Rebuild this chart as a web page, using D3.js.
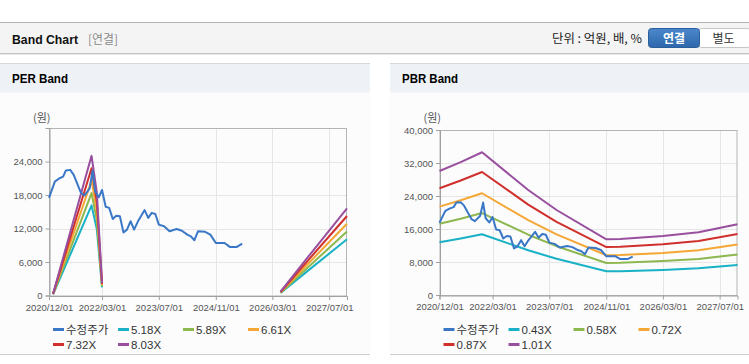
<!DOCTYPE html>
<html><head><meta charset="utf-8">
<script src="https://cdn.jsdelivr.net/npm/d3@7"></script>
<style>
html,body{margin:0;padding:0;background:#fff;}
svg{display:block;font-family:"Liberation Sans","Noto Sans CJK KR",sans-serif;}
</style></head>
<body><svg id="c" width="749" height="364"></svg>
<script>
// ---- data ----
const xTickLabels = ["2020/12/01","2022/03/01","2023/07/01","2024/11/01","2026/03/01","2027/07/01"];
const perYTicks = [0, 6000, 12000, 18000, 24000];
const pbrYTicks = [0, 8000, 16000, 24000, 32000, 40000];

const priceDates = ["2020-12-01","2021-01-20","2021-03-01","2021-04-01","2021-04-25","2021-06-01","2021-07-01","2021-09-01","2021-10-01","2021-11-15","2021-12-10","2022-01-01","2022-02-01","2022-03-01","2022-04-01","2022-05-01","2022-06-01","2022-07-01","2022-08-01","2022-09-01","2022-10-01","2022-11-01","2022-12-01","2023-01-01","2023-03-01","2023-04-01","2023-05-01","2023-06-01","2023-07-01","2023-08-15","2023-10-01","2023-12-01","2024-01-15","2024-03-01","2024-04-01","2024-05-01","2024-06-01","2024-08-01","2024-09-15","2024-11-01","2025-01-15","2025-03-01","2025-05-01","2025-06-15"];
const priceValues = [17500,20400,21000,21300,22400,22500,21600,18400,17900,19200,22400,18600,17600,18900,15900,15700,13700,14300,14200,11300,11800,13300,11800,13200,15300,13900,14800,14600,12700,12400,11500,11900,11600,10900,10600,9900,11500,11400,10900,9400,9400,8700,8700,9300];

// PER band: EPS base (null = gap)
const epsDates = ["2021-01-05","2021-12-01","2022-01-15","2022-02-15","2022-03-01","2022-03-02","2026-05-10","2027-01-01","2027-12-01"];
const epsValues = [40,3115,2300,900,280,null,85,860,1945];
const perMultiples = [5.18, 5.89, 6.61, 7.32, 8.03];
const perLabels = ["5.18X","5.89X","6.61X","7.32X","8.03X"];

// PBR band: BPS base
const bpsDates = ["2020-12-01","2021-06-01","2021-12-01","2023-01-01","2023-09-01","2024-11-01","2025-03-01","2026-03-01","2027-01-01","2027-12-01"];
const bpsValues = [29760,31900,34260,25200,20400,13370,13450,14160,15050,16970];
const pbrMultiples = [0.43, 0.58, 0.72, 0.87, 1.01];
const pbrLabels = ["0.43X","0.58X","0.72X","0.87X","1.01X"];

const priceLabel = "수정주가";
const bandColors = ["#19b1c6","#8db74f","#f4a734","#d0302c","#984f9e"];
const priceColor = "#3a78c7";

// ---- page chrome ----
const svg = d3.select("#c");
const parse = d3.timeParse("%Y-%m-%d");
const tickDates = xTickLabels.map(s => d3.timeParse("%Y/%m/%d")(s));
const xDomain = [parse("2020-12-01"), parse("2027-12-01")];

svg.append("rect").attr("x",0).attr("y",22).attr("width",749).attr("height",31).attr("fill","#f4f4f4");
svg.append("line").attr("x1",0).attr("x2",749).attr("y1",22.5).attr("y2",22.5).attr("stroke","#b5b5b5");
svg.append("line").attr("x1",0).attr("x2",749).attr("y1",53.5).attr("y2",53.5).attr("stroke","#c4c4c4");
svg.append("line").attr("x1",0).attr("x2",749).attr("y1",54.5).attr("y2",54.5).attr("stroke","#e6e6e6");
svg.append("text").attr("x",12).attr("y",44).attr("font-size",13).attr("font-weight","bold").attr("fill","#111")
  .attr("textLength",66).attr("lengthAdjust","spacingAndGlyphs").text("Band Chart");
svg.append("text").attr("x",88).attr("y",43.5).attr("font-size",12).attr("fill","#8a8a8a").attr("font-family","Noto Sans CJK KR")
  .attr("textLength",30).attr("lengthAdjust","spacingAndGlyphs").text("[연결]");
svg.append("text").attr("x",642).attr("y",43).attr("text-anchor","end").attr("font-size",12).attr("fill","#222").attr("font-family","Noto Sans CJK KR")
  .attr("textLength",90).attr("lengthAdjust","spacingAndGlyphs").text("단위 : 억원, 배, %");
const grad = svg.append("defs").append("linearGradient").attr("id","bg").attr("x1",0).attr("x2",0).attr("y1",0).attr("y2",1);
grad.append("stop").attr("offset","0%").attr("stop-color","#4b88cb");
grad.append("stop").attr("offset","100%").attr("stop-color","#2e67ab");
svg.append("rect").attr("x",698.5).attr("y",28.5).attr("width",52).attr("height",19).attr("rx",3).attr("fill","#fff").attr("stroke","#c6c6c6");
svg.append("rect").attr("x",648.5).attr("y",28.5).attr("width",51).attr("height",19).attr("rx",3).attr("fill","url(#bg)").attr("stroke","#2b5e9c");
svg.append("text").attr("x",674).attr("y",42.5).attr("text-anchor","middle").attr("font-size",12).attr("font-weight","bold").attr("fill","#fff").attr("font-family","Noto Sans CJK KR").text("연결");
svg.append("text").attr("x",723.5).attr("y",42.5).attr("text-anchor","middle").attr("font-size",12).attr("fill","#333").attr("font-family","Noto Sans CJK KR").text("별도");

// ---- panel builder ----
function panel(opt){
  const g = svg.append("g");
  g.append("rect").attr("x",opt.px).attr("y",63).attr("width",opt.pw).attr("height",291).attr("fill","#fcfcfd");
  g.append("rect").attr("x",opt.px).attr("y",63.5).attr("width",opt.pw).attr("height",29).attr("fill","#eef1f6");
  g.append("line").attr("x1",opt.px).attr("x2",opt.px+opt.pw).attr("y1",63.5).attr("y2",63.5).attr("stroke","#d8d8d8");
  g.append("line").attr("x1",opt.px).attr("x2",opt.px+opt.pw).attr("y1",354.5).attr("y2",354.5).attr("stroke","#cfcfcf");
  g.append("text").attr("x",opt.px+12).attr("y",83).attr("font-size",13).attr("font-weight","bold").attr("fill","#000")
    .attr("textLength",56).attr("lengthAdjust","spacingAndGlyphs").text(opt.title);

  const x = d3.scaleTime().domain(xDomain).range([opt.l, opt.r]);
  const y = d3.scaleLinear().domain([0, opt.ymax]).range([opt.b, opt.t]);

  // grid
  g.append("g").selectAll("line").data(opt.yticks.concat([opt.ymax])).join("line")
    .attr("x1",opt.l).attr("x2",opt.r).attr("y1",d=>Math.round(y(d))+0.5).attr("y2",d=>Math.round(y(d))+0.5).attr("stroke","#e6e6e6");
  g.append("g").selectAll("line").data(tickDates.slice(1)).join("line")
    .attr("y1",opt.t).attr("y2",opt.b).attr("x1",d=>Math.round(x(d))+0.5).attr("x2",d=>Math.round(x(d))+0.5).attr("stroke","#e6e6e6");
  // frame
  g.append("rect").attr("x",opt.l+0.5).attr("y",opt.t+0.5).attr("width",opt.r-opt.l-1).attr("height",opt.b-opt.t).attr("fill","none").attr("stroke","#b4b4b4");

  // axes
  const ya = d3.axisLeft(y).tickValues(opt.yticks).tickFormat(d3.format(",")).tickSize(4).tickPadding(3);
  const yg = g.append("g").attr("transform",`translate(${opt.l+0.5},0)`).call(ya);
  yg.select(".domain").attr("stroke","#a0a0a0");
  yg.selectAll(".tick line").attr("stroke","#a0a0a0");
  yg.selectAll("text").attr("font-size",9.5).attr("fill","#555").attr("font-family","Liberation Sans");
  const xa = d3.axisBottom(x).tickValues(tickDates).tickFormat(d3.timeFormat("%Y/%m/%d")).tickSize(4).tickPadding(4);
  const xg = g.append("g").attr("transform",`translate(0,${opt.b+0.5})`).call(xa);
  xg.select(".domain").attr("stroke","#a0a0a0");
  xg.selectAll(".tick line").attr("stroke","#a0a0a0");
  xg.selectAll("text").attr("font-size",9.5).attr("fill","#555").attr("font-family","Liberation Sans");

  g.append("text").attr("x",opt.l-16).attr("y",opt.unitY).attr("font-size",11).attr("fill","#555").attr("font-family","Noto Sans CJK KR").text("(원)");

  // bands
  const baseD = opt.baseDates.map(parse);
  opt.multiples.forEach((m,i)=>{
    const pts = baseD.map((d,j)=>({d, v: opt.baseValues[j]==null?null:opt.baseValues[j]*m}));
    const line = d3.line().defined(p=>p.v!=null).x(p=>x(p.d)).y(p=>y(p.v));
    g.append("path").attr("d",line(pts)).attr("fill","none").attr("stroke",bandColors[i]).attr("stroke-width",2).attr("stroke-linejoin","round");
  });
  // price
  const pp = priceDates.map((d,j)=>({d:parse(d), v:priceValues[j]}));
  g.append("path").attr("d",d3.line().x(p=>x(p.d)).y(p=>y(p.v))(pp)).attr("fill","none").attr("stroke",priceColor).attr("stroke-width",2).attr("stroke-linejoin","round");

  // legend
  const items = [{t:priceLabel,c:priceColor}].concat(opt.labels.map((t,i)=>({t,c:bandColors[i]})));
  const cols = [4, 69, 134, 199];
  items.forEach((it,k)=>{
    const row = Math.floor(k/4), col = k%4;
    const lx = opt.l + cols[col], ly = 329.5 + row*15;
    g.append("line").attr("x1",lx).attr("x2",lx+11).attr("y1",ly).attr("y2",ly).attr("stroke",it.c).attr("stroke-width",3);
    g.append("text").attr("x",lx+13).attr("y",ly+4.5).attr("font-size",11.5).attr("fill","#333").text(it.t);
  });
}

panel({px:0, pw:370, title:"PER Band", l:49, r:347, t:128, b:295.5, ymax:30000, yticks:perYTicks, unitY:122,
  baseDates:epsDates, baseValues:epsValues, multiples:perMultiples, labels:perLabels});
panel({px:390, pw:359, title:"PBR Band", l:439.5, r:737.5, t:130, b:295, ymax:40000, yticks:pbrYTicks, unitY:122,
  baseDates:bpsDates, baseValues:bpsValues, multiples:pbrMultiples, labels:pbrLabels});
</script></body></html>
